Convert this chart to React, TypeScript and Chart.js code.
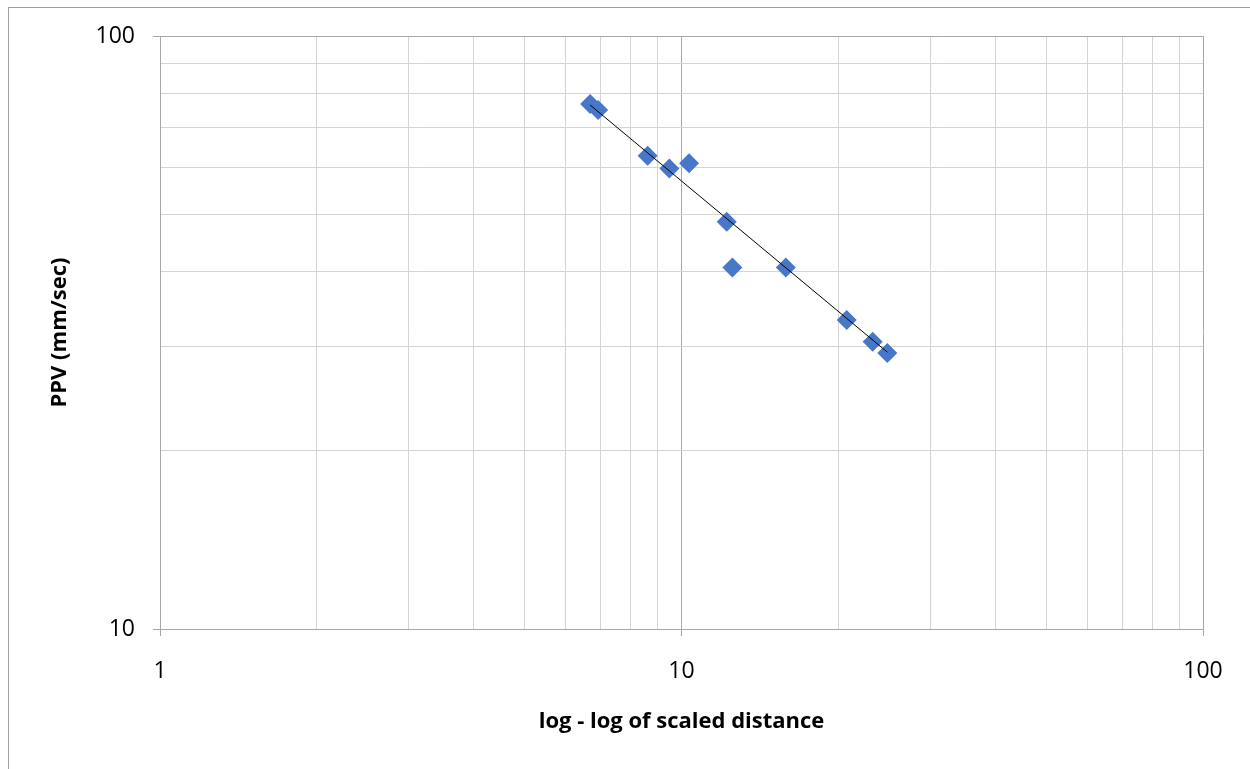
import React, { useEffect, useRef } from "react";
import { Chart, registerables } from "chart.js";

Chart.register(...registerables);

// Scaled distance (x) and PPV in mm/sec (y)
const scaledDistance = [6.68, 6.92, 8.61, 9.48, 10.34, 12.21, 12.52, 15.85, 20.74, 23.26, 24.81];
const ppv = [76.8, 75.0, 62.8, 59.8, 61.0, 48.6, 40.7, 40.7, 33.2, 30.5, 29.2];

// Power trendline end points
const trendX = [6.68, 24.81];
const trendY = [76.5, 29.3];

// Axis ticks (log gridlines) and labelled decades
const xTicks = [1, 2, 3, 4, 5, 6, 7, 8, 9, 10, 20, 30, 40, 50, 60, 70, 80, 90, 100];
const yTicks = [10, 20, 30, 40, 50, 60, 70, 80, 90, 100];
const majorTicks = [1, 10, 100];

const xTitle = "log - log of scaled distance";
const yTitle = "PPV (mm/sec)";

const FONT = "'Open Sans', 'Liberation Sans', sans-serif";
const MAJOR_GRID = "#a8a8a8";
const MINOR_GRID = "#d4d4d4";

export default function App() {
  const canvasRef = useRef<HTMLCanvasElement | null>(null);

  useEffect(() => {
    document.documentElement.style.overflow = "hidden";
    document.body.style.overflow = "hidden";
    const canvas = canvasRef.current;
    if (!canvas) return;

    const isMajor = (v: number) => majorTicks.includes(v);

    const chart = new Chart(canvas, {
      type: "scatter",
      data: {
        datasets: [
          {
            label: "PPV",
            data: scaledDistance.map((x, i) => ({ x, y: ppv[i] })),
            pointStyle: "rectRot",
            pointRadius: 10,
            pointHoverRadius: 10,
            backgroundColor: "#4677c8",
            borderColor: "#4677c8",
            borderWidth: 0,
            order: 2,
          },
          {
            label: "Trend",
            type: "line",
            data: trendX.map((x, i) => ({ x, y: trendY[i] })),
            borderColor: "#000000",
            borderWidth: 1,
            pointRadius: 0,
            showLine: true,
            fill: false,
            order: 1,
          } as any,
        ],
      },
      options: {
        responsive: false,
        animation: false,
        events: [],
        layout: { padding: { left: 0, top: 36, right: 47, bottom: 0 } },
        plugins: {
          legend: { display: false },
          tooltip: { enabled: false },
          title: { display: false },
        },
        scales: {
          x: {
            type: "logarithmic",
            position: "bottom",
            min: 1,
            max: 100,
            afterBuildTicks: (scale: any) => {
              scale.ticks = xTicks.map((v) => ({ value: v }));
            },
            afterFit: (scale: any) => {
              scale.height = 140;
            },
            ticks: {
              autoSkip: false,
              maxRotation: 0,
              padding: 22,
              color: "#000000",
              font: { family: FONT, size: 23 },
              callback: (v: any) => (isMajor(Number(v)) ? String(v) : ""),
            },
            grid: {
              color: (ctx: any) => (ctx.tick && isMajor(ctx.tick.value) ? MAJOR_GRID : MINOR_GRID),
              tickColor: (ctx: any) => (ctx.tick && isMajor(ctx.tick.value) ? MAJOR_GRID : "rgba(0,0,0,0)"),
              tickLength: 7,
              lineWidth: 1,
            },
            border: { color: MAJOR_GRID, width: 1 },
            title: {
              display: true,
              text: xTitle,
              color: "#000000",
              font: { family: FONT, size: 22, weight: "bold" },
              padding: { top: 0, bottom: 34 },
            },
          },
          y: {
            type: "logarithmic",
            position: "left",
            min: 10,
            max: 100,
            afterBuildTicks: (scale: any) => {
              scale.ticks = yTicks.map((v) => ({ value: v }));
            },
            afterFit: (scale: any) => {
              scale.width = 160;
            },
            ticks: {
              autoSkip: false,
              padding: 18,
              color: "#000000",
              font: { family: FONT, size: 23 },
              callback: (v: any) => (isMajor(Number(v)) ? String(v) : ""),
            },
            grid: {
              color: (ctx: any) => (ctx.tick && isMajor(ctx.tick.value) ? MAJOR_GRID : MINOR_GRID),
              tickColor: (ctx: any) => (ctx.tick && isMajor(ctx.tick.value) ? MAJOR_GRID : "rgba(0,0,0,0)"),
              tickLength: 7,
              lineWidth: 1,
            },
            border: { color: MAJOR_GRID, width: 1 },
            title: {
              display: true,
              text: yTitle,
              color: "#000000",
              font: { family: FONT, size: 22, weight: "bold" },
              padding: { top: 47, bottom: 0 },
            },
          },
        },
      },
    });

    return () => {
      chart.destroy();
    };
  }, []);

  return (
    <div
      style={{
        position: "fixed",
        left: 0,
        top: 0,
        width: 1250,
        height: 769,
        background: "#ffffff",
        overflow: "hidden",
      }}
    >
      <div
        style={{
          position: "absolute",
          left: 8,
          top: 7,
          width: 1242,
          height: 762,
          borderTop: "1px solid #a0a0a0",
          borderLeft: "1px solid #a0a0a0",
          boxSizing: "border-box",
        }}
      />
      <canvas
        ref={canvasRef}
        width={1250}
        height={769}
        style={{ position: "absolute", left: 0, top: 0, width: 1250, height: 769 }}
      />
    </div>
  );
}
